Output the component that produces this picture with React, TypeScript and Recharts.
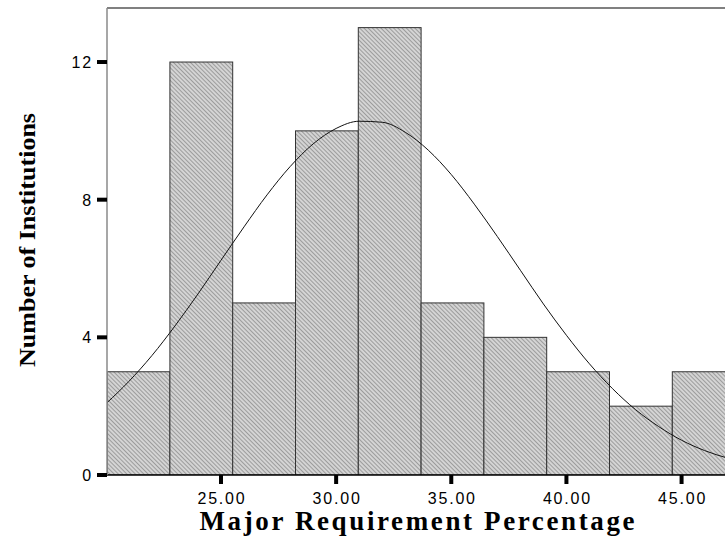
import {
  ComposedChart,
  Bar,
  Line,
  XAxis,
  YAxis,
  ReferenceLine,
} from 'recharts';

// histogram bins (Major Requirement Percentage)
const binStart = 20.05;
const binWidth = 2.727;
const binCounts = [3, 12, 5, 10, 13, 5, 4, 3, 2, 3];

// normal curve overlay
const curveX = [
  20.05, 21, 22, 23, 24, 25, 26, 27, 28, 29, 30, 31, 32, 33, 34, 35, 36, 37,
  38, 39, 40, 41, 42, 43, 44, 45, 46, 47, 47.32,
];
const curveY = [
  2.1, 2.72, 3.47, 4.33, 5.26, 6.24, 7.21, 8.14, 8.96, 9.62, 10.07, 10.28,
  10.25, 9.96, 9.44, 8.73, 7.87, 6.93, 5.95, 4.97, 4.06, 3.23, 2.51, 1.9, 1.41,
  1.01, 0.71, 0.49, 0.43,
];

const xTicks = [25, 30, 35, 40, 45];
const yTicks = [0, 4, 8, 12];
const yMax = 13.57;

const xMax = binStart + binWidth * binCounts.length;

const barData = binCounts.map((count, i) => ({
  x: binStart + binWidth * (i + 0.5),
  count,
}));
const curveData = curveX.map((x, i) => ({ x, fit: curveY[i] }));

const CHART_W = 745;
const CHART_H = 554;
const PLOT_LEFT = 107;
const PLOT_RIGHT_MARGIN = 10;
const plotWidth = CHART_W - PLOT_LEFT - PLOT_RIGHT_MARGIN;
const binPx = plotWidth / binCounts.length;

const FONT = 'Liberation Sans, Arial, sans-serif';

function XTick(props: any) {
  const { x, y, payload } = props;
  return (
    <text
      x={x + 1}
      y={y + 20}
      textAnchor='middle'
      fontFamily={FONT}
      fontSize={16}
      letterSpacing={1.8}
      fill='#000'
    >
      {Number(payload.value).toFixed(2)}
    </text>
  );
}

function YTick(props: any) {
  const { x, y, payload } = props;
  return (
    <text
      x={x}
      y={y + 6}
      textAnchor='end'
      fontFamily={FONT}
      fontSize={16}
      letterSpacing={1.8}
      fill='#000'
    >
      {payload.value}
    </text>
  );
}

// each bin drawn edge to edge, centred on the bar's own x from the scale
function BinShape(props: any) {
  const { x, y, width, height } = props;
  const cx = x + width / 2;
  return (
    <rect
      x={cx - binPx / 2}
      y={y}
      width={binPx}
      height={height}
      fill='url(#hatch)'
      stroke='#333'
      strokeWidth={1}
    />
  );
}

export default function App() {
  return (
    <div
      style={{
        position: 'absolute',
        left: 0,
        top: 0,
        width: 725,
        height: 554,
        overflow: 'hidden',
        background: '#fff',
      }}
    >
      <ComposedChart
        width={CHART_W}
        height={CHART_H}
        data={barData}
        margin={{ top: 8, right: PLOT_RIGHT_MARGIN, left: 0, bottom: 0 }}
        barGap={0}
        barCategoryGap='0%'
      >
        <defs>
          <pattern
            id='hatch'
            patternUnits='userSpaceOnUse'
            width={3}
            height={3}
            patternTransform='rotate(-45)'
          >
            <rect width={3} height={3} fill='#d4d4d4' />
            <line x1={0.5} y1={0} x2={0.5} y2={3} stroke='#9c9c9c' strokeWidth={1} />
          </pattern>
        </defs>
        <XAxis
          dataKey='x'
          type='number'
          domain={[binStart, xMax]}
          allowDataOverflow
          ticks={xTicks}
          height={79}
          axisLine={{ stroke: '#000', strokeWidth: 1.5 }}
          tickLine={{ stroke: '#000', strokeWidth: 4 }}
          tickSize={9}
          tickMargin={0}
          tick={<XTick />}
        />
        <XAxis
          xAxisId='curve'
          dataKey='x'
          type='number'
          domain={[binStart, xMax]}
          allowDataOverflow
          hide
        />
        <YAxis
          type='number'
          domain={[0, yMax]}
          allowDataOverflow
          ticks={yTicks}
          width={PLOT_LEFT}
          axisLine={{ stroke: '#8a8a8a', strokeWidth: 1.5 }}
          tickLine={{ stroke: '#000', strokeWidth: 4 }}
          tickSize={10}
          tickMargin={4}
          tick={<YTick />}
        />
        <ReferenceLine y={yMax} stroke='#808080' strokeWidth={2} />
        <Bar
          dataKey='count'
          fill='url(#hatch)'
          shape={<BinShape />}
          isAnimationActive={false}
        />
        <Line
          xAxisId='curve'
          data={curveData}
          dataKey='fit'
          type='monotone'
          stroke='#111'
          strokeWidth={1}
          dot={false}
          activeDot={false}
          isAnimationActive={false}
        />
      </ComposedChart>
      <svg
        width={725}
        height={554}
        style={{ position: 'absolute', left: 0, top: 0, pointerEvents: 'none' }}
      >
        <text
          x={417}
          y={530}
          textAnchor='middle'
          fontFamily='Liberation Serif, Times New Roman, serif'
          fontWeight='bold'
          fontSize={27}
          textLength={435}
          lengthAdjust='spacing'
        >
          Major Requirement Percentage
        </text>
        <text
          transform='translate(35,240) rotate(-90)'
          textAnchor='middle'
          fontFamily='Liberation Serif, Times New Roman, serif'
          fontWeight='bold'
          fontSize={24}
          textLength={254}
          lengthAdjust='spacingAndGlyphs'
        >
          Number of Institutions
        </text>
      </svg>
    </div>
  );
}
